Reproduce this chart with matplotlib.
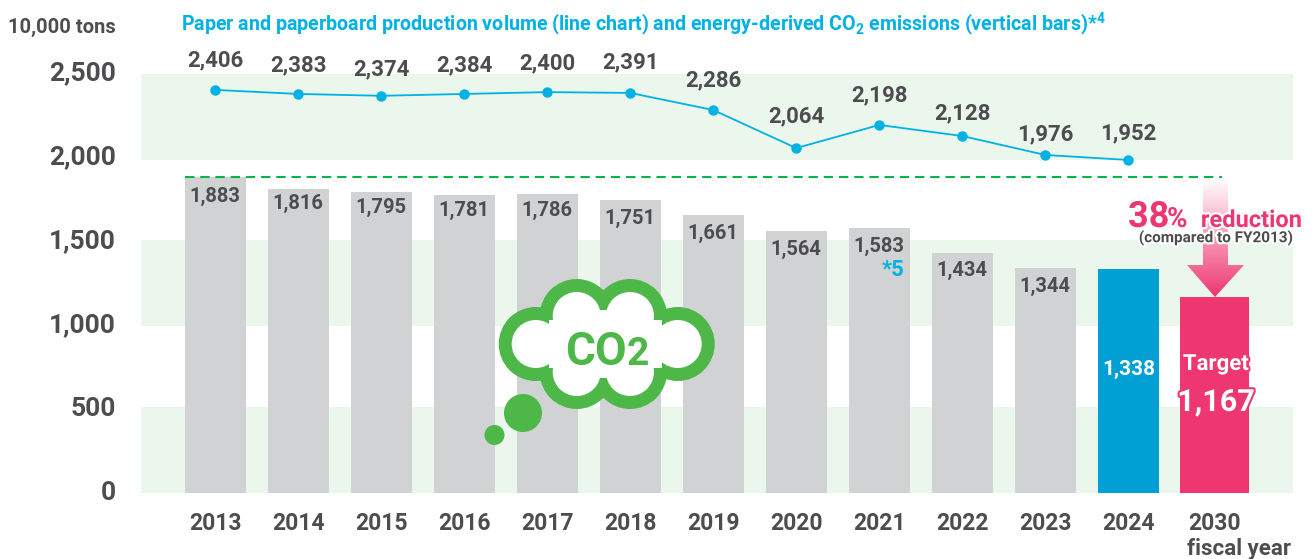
import numpy as np
import matplotlib
matplotlib.use('Agg')
import matplotlib.pyplot as plt
import matplotlib.patheffects as pe
from matplotlib.patches import Circle, Polygon, Rectangle
from matplotlib.transforms import ScaledTranslation

plt.rcParams['font.family'] = ['Roboto', 'DejaVu Sans']
plt.rcParams['font.weight'] = 'bold'
plt.rcParams['mathtext.fontset'] = 'custom'
plt.rcParams['mathtext.bf'] = 'Roboto:bold'

# data
years = ['2013', '2014', '2015', '2016', '2017', '2018', '2019', '2020', '2021', '2022', '2023', '2024', '2030']
bar_pos = [0, 1, 2, 3, 4, 5, 6, 7, 8, 9, 10, 11, 12.04]
co2 = [1883, 1816, 1795, 1781, 1786, 1751, 1661, 1564, 1583, 1434, 1344, 1338, 1167]
paper = [2406, 2383, 2374, 2384, 2400, 2391, 2286, 2064, 2198, 2128, 1976, 1952]
# heights as the source drew them, last points sit above their printed values
paper_drawn = [2405, 2381, 2370, 2381, 2392, 2387, 2285, 2058, 2196, 2130, 2017, 1987]
yticks = [0, 500, 1000, 1500, 2000, 2500]
# the source bands are not quite on the tick values
bands = [(0, 513), (996, 1509), (1987, 2500)]

# colours
DARK = '#4d4d4f'
GREY = '#d1d2d4'
BLUE = '#00b2e3'
BAR_BLUE = '#009fd4'
PINK = '#ee3670'
BAND = '#ebf6ec'
GREEN = '#4db848'

W, H = 1312, 559
fig = plt.figure(figsize=(W / 100, H / 100), dpi=100)

# main axes, placed in pixels
ax = fig.add_axes([141 / W, (H - 493) / H, (1293 - 141) / W, (493 - 74) / H])
ax.set_xlim(-0.895, 12.985)
ax.set_ylim(0, 2500)
for s in ax.spines.values():
    s.set_visible(False)

for lo, hi in bands:
    ax.axhspan(lo, hi, color=BAND, lw=0, zorder=0)

colors = [GREY] * 11 + [BAR_BLUE, PINK]
widths = [0.735] * 12 + [0.83]
ax.bar(bar_pos, co2, width=widths, color=colors, zorder=1)

# reduction baseline
ax.plot([-0.36, 12.13], [co2[0], co2[0]], color='#0db14b', lw=1.5, dashes=(4.5, 2.8), zorder=2)

ax.plot(bar_pos[:12], paper_drawn, color=BLUE, lw=1.3, marker='o', ms=7.5, mew=0, zorder=3)

label_offsets = [30, 29, 26, 29, 29, 31, 30, 32, 30, 23, 21, 27]
for x, y, v, off in zip(bar_pos, paper_drawn, paper, label_offsets):
    ax.annotate(f'{v:,}', (x, y), xytext=(0, off * 0.72), textcoords='offset points',
                ha='center', va='center', fontsize=16, color=DARK, annotation_clip=False, zorder=4)

bar_label_offsets = [19, 15, 15, 16, 17, 19, 19, 19, 19, 18, 19]
for x, v, off in zip(bar_pos[:11], co2[:11], bar_label_offsets):
    ax.annotate(f'{v:,}', (x, v), xytext=(0, -off * 0.72), textcoords='offset points',
                ha='center', va='center', fontsize=14.5, color=DARK, zorder=4)

ax.set_xticks(bar_pos)
ax.set_xticklabels(years, fontsize=16.5, color=DARK)
ax.set_yticks(yticks)
ax.set_yticklabels([f'{t:,}' for t in yticks], fontsize=19, color=DARK)
ax.tick_params(length=0)
ax.tick_params(axis='x', pad=14)
ax.tick_params(axis='y', pad=18)
# y labels sit a little above their values in the source
shift_up = ScaledTranslation(0, 3 / 100, fig.dpi_scale_trans)
for lab in ax.get_yticklabels():
    lab.set_transform(lab.get_transform() + shift_up)

# overlay in image pixels for the annotations
ov = fig.add_axes([0, 0, 1, 1], zorder=5)
ov.set_xlim(0, W)
ov.set_ylim(H, 0)
ov.axis('off')
ov.patch.set_alpha(0)

ov.text(116, 27, '10,000 tons', ha='right', va='center', fontsize=14.5, color=DARK)
ov.text(181, 24, r'Paper and paperboard production volume (line chart) and energy-derived CO$_{\mathbf{2}}$ emissions (vertical bars)*$^{\mathbf{4}}$',
        ha='left', va='center', fontsize=14.1, color=BLUE)
ov.text(1239, 549, 'fiscal year', ha='center', va='center', fontsize=16, color=DARK)
ov.text(893, 270, '*5', ha='center', va='center', fontsize=16, color=BLUE)

# arrow with fade
grad = np.linspace(0, 1, 256).reshape(-1, 1)
cmap = matplotlib.colors.LinearSegmentedColormap.from_list('fade', ['#ffffff', PINK])
im = ov.imshow(grad, cmap=cmap, extent=(1187, 1244, 297, 178), aspect='auto', zorder=2)
ov.set_xlim(0, W)
ov.set_ylim(H, 0)
arrow = Polygon([(1203, 178), (1228, 178), (1228, 265), (1244, 265), (1215, 297), (1187, 265), (1203, 265)],
                closed=True, transform=ov.transData, fc='none', ec='none')
ov.add_patch(arrow)
im.set_clip_path(arrow)

halo = [pe.withStroke(linewidth=3, foreground='white')]
ov.text(1128, 227, '38', ha='left', va='baseline', fontsize=26, color=PINK, path_effects=halo, zorder=3)
ov.text(1167, 227, '%', ha='left', va='baseline', fontsize=20, color=PINK, path_effects=halo, zorder=3)
ov.text(1302, 227, 'reduction', ha='right', va='baseline', fontsize=17, color=PINK, path_effects=halo, zorder=3)
ov.text(1216, 238, '(compared to FY2013)', ha='center', va='center', fontsize=11, color=DARK, path_effects=halo, zorder=3)

ov.text(1129, 369, '1,338', ha='center', va='center', fontsize=15, color='white', zorder=3)
pink_halo = [pe.withStroke(linewidth=3, foreground=PINK)]
ov.text(1216, 364, 'Target', ha='center', va='center', fontsize=16, color='white', path_effects=pink_halo, zorder=3)
ov.text(1216, 402, '1,167', ha='center', va='center', fontsize=22, color='white', path_effects=pink_halo, zorder=3)

# CO2 cloud
lobes = [(535.7, 344), (677.7, 344), (576.7, 316), (630, 316), (576.7, 372), (630, 372)]
for c in lobes:
    ov.add_patch(Circle(c, 37, fc=GREEN, ec='none', zorder=3))
ov.add_patch(Rectangle((540, 320), 130, 50, fc=GREEN, ec='none', zorder=3))
for c in lobes:
    ov.add_patch(Circle(c, 24, fc='white', ec='none', zorder=4))
ov.add_patch(Rectangle((577, 310), 53, 68, fc='white', ec='none', zorder=4))
ov.add_patch(Rectangle((549, 320), 113, 48, fc='white', ec='none', zorder=4))
ov.add_patch(Circle((523, 413), 19, fc=GREEN, ec='none', zorder=3))
ov.add_patch(Circle((494.5, 435), 10, fc=GREEN, ec='none', zorder=3))
ov.text(565, 365, 'CO', ha='left', va='baseline', fontsize=33, color=GREEN, zorder=5)
ov.text(627, 365, '2', ha='left', va='baseline', fontsize=28, color=GREEN, zorder=5)

fig.savefig('out.png', dpi=100)
